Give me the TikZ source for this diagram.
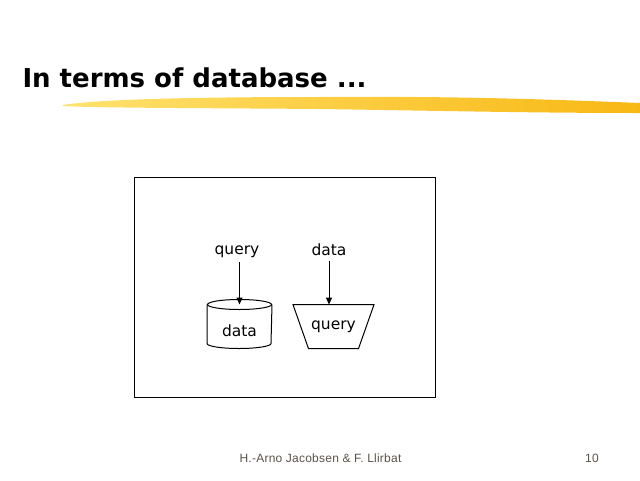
\documentclass[tikz,border=0pt]{standalone}
\usepackage{fontspec}
\setmainfont{DejaVu Sans}
\newfontfamily\footfont[LetterSpace=2]{Liberation Sans}
\usetikzlibrary{arrows.meta}
\definecolor{brushlight}{RGB}{255,226,110}
\definecolor{brushdark}{RGB}{248,184,20}
\definecolor{footgray}{RGB}{90,82,70}
\begin{document}
\begin{tikzpicture}[x=1pt, y=-1pt, line width=1pt,
    word/.style={font=\fontsize{15.5}{18}\selectfont, inner sep=1pt},
    store/.style={minimum width=64pt, minimum height=38pt, inner sep=0pt},
    filter/.style={word, minimum width=49pt, minimum height=43pt, inner sep=0pt},
    flow/.style={-{Triangle[length=7pt,width=6pt]}, shorten <=3pt},
    foot/.style={font=\footfont\fontsize{12}{14}\selectfont, text=footgray}]
  \useasboundingbox (0,0) rectangle (640,480);
  % Title
  \node[anchor=base west, inner sep=0pt, font=\fontsize{26}{30}\selectfont\bfseries] (title) at (22,87) {In terms of database ...};
  % Brush stroke under the title
  \shade[left color=brushlight, right color=brushdark] (63,105) .. controls (100,99) and (200,97) .. (320,97)
    .. controls (450,96) and (540,99) .. (640,103) -- (640,113)
    .. controls (540,113) and (450,111) .. (320,109) .. controls (200,108) and (100,108) .. (63,106) -- cycle;
  % Frame
  \node[draw, minimum width=301pt, minimum height=220.5pt, inner sep=0pt] (frame) at (284.8,287.5) {};
  % Database
  \node[store, label={[word, yshift=-6.7pt]center:data}] (db) at (239.5,324) {};
  \draw (db.north west) -- (db.south west) arc[start angle=180, end angle=360, x radius=32pt, y radius=5pt] -- (db.north east);
  \draw (db.north) ellipse[x radius=32pt, y radius=5pt];
  % Query as filter
  \node[filter] (qry) at (333.5,326.6) {query};
  \draw ([xshift=-15.5pt]qry.north west) -- (qry.south west) -- (qry.south east) -- ([xshift=15.5pt]qry.north east) -- cycle;
  % Inputs
  \node[word] (q1) at (237,251.7) {query};
  \node[word] (d1) at (329,250) {data};
  \draw[flow] (q1.south -| db.north) -- (db.north);
  \draw[flow] (d1.south) -- (d1.south |- qry.north);
  % Footer
  \node[foot] (author) at (320.5,458) {H.-Arno Jacobsen \& F. Llirbat};
  \node[foot] (page) at (592,458) {10};
\end{tikzpicture}
\end{document}
